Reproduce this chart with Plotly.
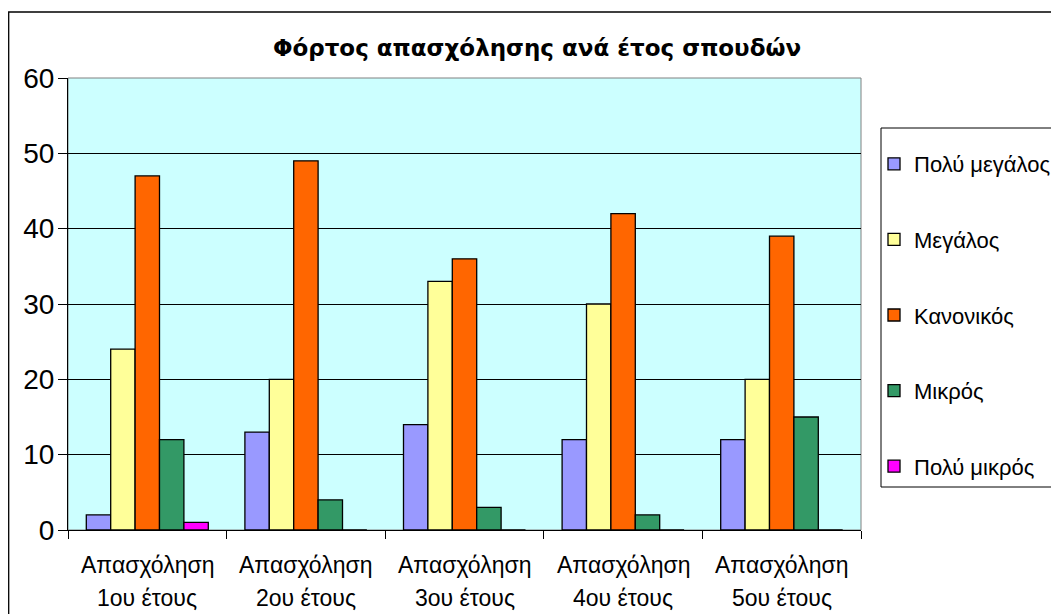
import plotly.graph_objects as go

categories = ["Απασχόληση 1ου έτους", "Απασχόληση 2ου έτους", "Απασχόληση 3ου έτους",
              "Απασχόληση 4ου έτους", "Απασχόληση 5ου έτους"]
label_line1 = ["Απασχόληση"] * 5
label_line2 = ["1ου έτους", "2ου έτους", "3ου έτους", "4ου έτους", "5ου έτους"]

series_names = ["Πολύ μεγάλος", "Μεγάλος", "Κανονικός", "Μικρός", "Πολύ μικρός"]
poly_megalos = [2, 13, 14, 12, 12]
megalos = [24, 20, 33, 30, 20]
kanonikos = [47, 49, 36, 42, 39]
mikros = [12, 4, 3, 2, 15]
poly_mikros = [1, 0, 0, 0, 0]
series_values = [poly_megalos, megalos, kanonikos, mikros, poly_mikros]
series_colors = ["#9999FF", "#FFFF99", "#FF6600", "#339966", "#FF00FF"]

y_ticks = [0, 10, 20, 30, 40, 50, 60]

FONT = "Liberation Sans, Arial, sans-serif"
TFONT = "DejaVu Sans, Verdana, sans-serif"

fig = go.Figure()
for name, vals, col in zip(series_names, series_values, series_colors):
    fig.add_trace(go.Bar(
        x=categories, y=vals, name=name, legendgroup=name,
        marker=dict(color=col, line=dict(color="black", width=1.3)),
    ))

# page body has an 8px margin -> figure coordinates = screen - 8
W, H = 1051, 606
L, R, T, B = 60, 198, 70, 84
pw, ph = W - L - R, H - T - B


def px_x(x):
    return (x - L) / pw


def px_y(y):
    return 1 - (y - T) / ph


fig.update_layout(
    width=W, height=H,
    margin=dict(l=L, r=R, t=T, b=B, pad=0, autoexpand=False),
    paper_bgcolor="white",
    plot_bgcolor="#CCFFFF",
    barmode="group",
    bargap=1.5 / 6.5,
    bargroupgap=0,
    font=dict(family=FONT, color="black"),
    title=dict(text="<b>Φόρτος απασχόλησης ανά έτος σπουδών</b>",
               x=529 / W, xanchor="center", y=1 - 40 / H, yanchor="middle",
               font=dict(size=23, family=TFONT, color="black")),
    showlegend=True,
    legend=dict(
        x=px_x(866), xanchor="left",
        y=px_y(135), yanchor="top",
        borderwidth=0, bgcolor="rgba(0,0,0,0)",
        font=dict(size=22, family=FONT, color="black"),
        tracegroupgap=44, itemwidth=30,
    ),
    xaxis=dict(
        showticklabels=False, ticks="outside", tickson="boundaries",
        ticklen=8, tickcolor="black", showline=True, linecolor="black",
        linewidth=1, showgrid=False, mirror=False,
    ),
    yaxis=dict(
        range=[0, 60], tickvals=y_ticks, ticks="outside", ticklen=9,
        tickcolor="black", showline=True, linecolor="black", linewidth=1,
        showgrid=True, gridcolor="black", gridwidth=1, zeroline=False,
        tickfont=dict(size=28, family=FONT, color="black"),
        ticklabelstandoff=-2,
    ),
)

# plot-area grey border (top/right)
fig.add_shape(type="rect", xref="paper", yref="paper", x0=0, x1=1, y0=0, y1=1,
              line=dict(color="#808080", width=1), layer="below")
# outer chart frame
fig.add_shape(type="rect", xref="paper", yref="paper",
              x0=px_x(0.7), x1=px_x(1070), y0=px_y(620), y1=px_y(4),
              line=dict(color="black", width=1.3))
# legend frame
fig.add_shape(type="rect", xref="paper", yref="paper",
              x0=px_x(873), x1=px_x(1060), y0=px_y(479), y1=px_y(120),
              line=dict(color="black", width=1), fillcolor="white", layer="below")

for cat, l1, l2 in zip(categories, label_line1, label_line2):
    fig.add_annotation(x=cat, xref="x", y=px_y(557), yref="paper",
                       text=l1, showarrow=False, yanchor="middle",
                       font=dict(size=23, family=FONT, color="black"))
    fig.add_annotation(x=cat, xref="x", y=px_y(590), yref="paper",
                       text=l2, showarrow=False, yanchor="middle",
                       font=dict(size=23, family=FONT, color="black"))

fig.write_html("out.html")
